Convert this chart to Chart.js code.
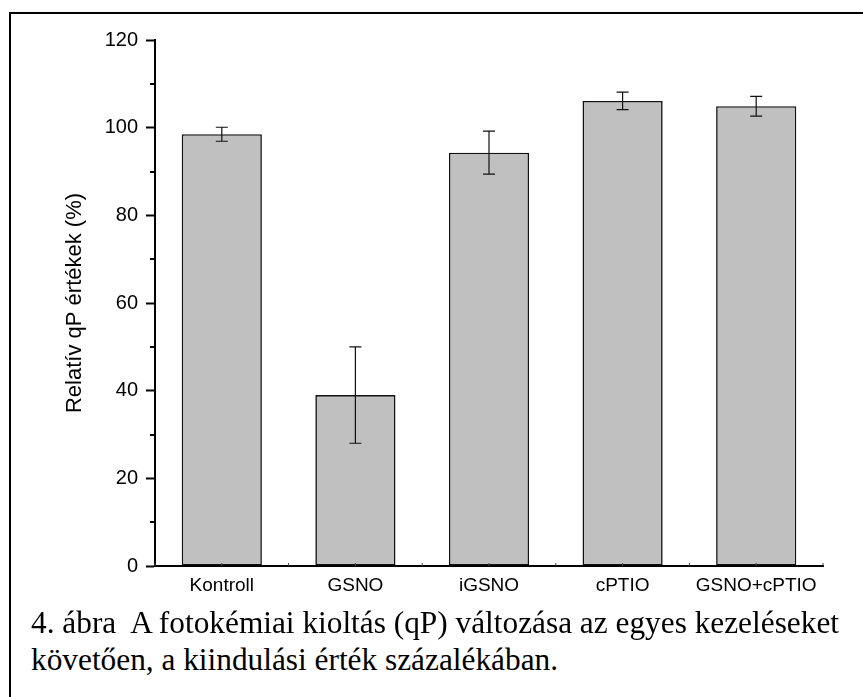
<!DOCTYPE html>
<html>
<head>
<meta charset="utf-8">
<script src="https://cdn.jsdelivr.net/npm/chart.js@4.4.1/dist/chart.umd.min.js"></script>
<style>
  html, body { margin: 0; padding: 0; background: #fff; }
  #wrap { position: relative; width: 863px; height: 697px; overflow: hidden; background: #fff; }
  #frameL { position: absolute; left: 9px; top: 12px; width: 2px; height: 700px; background: #000; }
  #frameT { position: absolute; left: 9px; top: 12px; width: 900px; height: 2px; background: #000; }
  #cv { position: absolute; left: 0; top: 0; }
  .cap { position: absolute; left: 31px; font-family: "Liberation Serif", "DejaVu Serif", serif; font-size: 31px; color: #000; white-space: nowrap; transform-origin: 0 0; line-height: 1; }
</style>
</head>
<body>
<div id="wrap">
  <div id="frameL"></div>
  <div id="frameT"></div>
  <canvas id="cv" width="863" height="610"></canvas>
  <div class="cap" id="cap1">4. ábra&nbsp; A fotokémiai kioltás (qP) változása az egyes kezeléseket</div>
  <div class="cap" id="cap2">követően, a kiindulási érték százalékában.</div>
</div>
<script>
const categories = ['Kontroll', 'GSNO', 'iGSNO', 'cPTIO', 'GSNO+cPTIO'];
const qpValues = [98.5, 39.0, 94.3, 106.1, 104.9];
const qpErrors = [1.6, 11.0, 4.9, 2.0, 2.25];
const yTicks = [0, 20, 40, 60, 80, 100, 120];
const yMinorTicks = [10, 30, 50, 70, 90, 110];

const errorBarPlugin = {
  id: 'errorBars',
  afterDatasetsDraw(chart) {
    const ctx = chart.ctx;
    const meta = chart.getDatasetMeta(0);
    const y = chart.scales.y;
    ctx.save();
    ctx.strokeStyle = '#111';
    ctx.lineWidth = 1.2;
    meta.data.forEach((bar, i) => {
      const v = qpValues[i], e = qpErrors[i];
      const yt = y.getPixelForValue(v + e);
      const yb = y.getPixelForValue(v - e);
      const x = bar.x;
      const cw = 6;
      ctx.beginPath();
      ctx.moveTo(x, yt); ctx.lineTo(x, yb);
      ctx.moveTo(x - cw, yt); ctx.lineTo(x + cw, yt);
      ctx.moveTo(x - cw, yb); ctx.lineTo(x + cw, yb);
      ctx.stroke();
    });
    ctx.restore();
  }
};

const axisDecor = {
  id: 'axisDecor',
  afterDraw(chart) {
    const ctx = chart.ctx;
    const y = chart.scales.y;
    const x = chart.scales.x;
    const area = chart.chartArea;
    ctx.save();
    ctx.strokeStyle = '#000';
    ctx.lineWidth = 2;
    yMinorTicks.forEach(v => {
      const py = Math.round(y.getPixelForValue(v));
      ctx.beginPath();
      ctx.moveTo(area.left - 5, py);
      ctx.lineTo(area.left, py);
      ctx.stroke();
    });
    ctx.strokeStyle = '#444';
    ctx.lineWidth = 1;
    const n = categories.length;
    const step = (area.right - area.left) / n;
    for (let i = 0; i <= n; i++) {
      const bx = x.getPixelForValue(0) - step / 2 + i * step;
      ctx.beginPath(); ctx.moveTo(bx, area.bottom); ctx.lineTo(bx, area.bottom - 3); ctx.stroke();
      if (i < n) {
        const cx = x.getPixelForValue(i);
        ctx.beginPath(); ctx.moveTo(cx, area.bottom); ctx.lineTo(cx, area.bottom - 3); ctx.stroke();
      }
    }
    ctx.restore();
  }
};

new Chart(document.getElementById('cv'), {
  type: 'bar',
  data: {
    labels: categories,
    datasets: [{
      data: qpValues,
      backgroundColor: '#c0c0c0',
      borderColor: '#111',
      borderWidth: 1.6,
      borderSkipped: false,
      barPercentage: 0.6,
      categoryPercentage: 1.0
    }]
  },
  options: {
    responsive: false,
    animation: false,
    devicePixelRatio: 1,
    layout: { padding: { top: 40, right: 40, left: 62, bottom: 0 } },
    plugins: { legend: { display: false }, tooltip: { enabled: false } },
    scales: {
      x: {
        afterFit(scale) { scale.height = 44; },
        grid: { display: false, drawTicks: false },
        border: { display: true, color: '#000', width: 2 },
        ticks: { color: '#000', padding: 8, font: { family: 'Liberation Sans, Arial, sans-serif', size: 19 } }
      },
      y: {
        min: 0, max: 120,
        afterFit(scale) { scale.width = 93; },
        afterBuildTicks(scale) { scale.ticks = yTicks.map(v => ({ value: v })); },
        grid: { drawOnChartArea: false, drawTicks: true, tickLength: 9, tickWidth: 2, tickColor: '#000' },
        border: { display: true, color: '#000', width: 2 },
        ticks: { color: '#000', padding: 8, font: { family: 'Liberation Sans, Arial, sans-serif', size: 20 } },
        title: { display: true, text: 'Relatív qP értékek (%)', color: '#000', padding: { top: 0, bottom: 0 }, font: { family: 'Liberation Sans, Arial, sans-serif', size: 22 } }
      }
    }
  },
  plugins: [errorBarPlugin, axisDecor]
});

(function () {
  const c1 = document.getElementById('cap1');
  const c2 = document.getElementById('cap2');
  const w = c1.getBoundingClientRect().width;
  const s = 808 / w;
  [c1, c2].forEach(el => el.style.transform = 'scaleX(' + s + ')');
  c1.style.top = '607px';
  c2.style.top = '644px';
})();
</script>
</body>
</html>
